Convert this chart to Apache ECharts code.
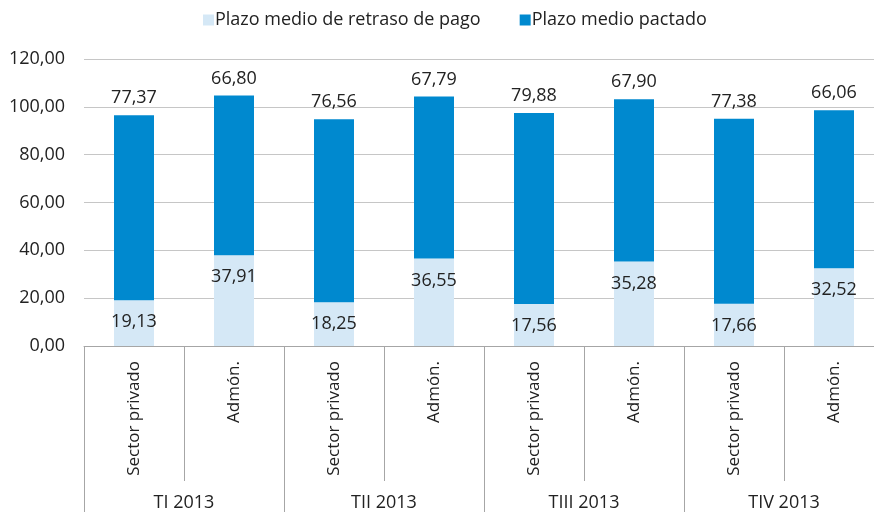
<!DOCTYPE html>
<html><head><meta charset="utf-8">
<script src="https://cdn.jsdelivr.net/npm/echarts@6/dist/echarts.min.js"></script>
<style>html,body{margin:0;padding:0;background:#fff;overflow:hidden}#c{width:884px;height:512px}</style>
</head><body><div id="c"></div>
<script>
const categories = ['Sector privado','Admón.','Sector privado','Admón.','Sector privado','Admón.','Sector privado','Admón.'];
const groups = ['TI 2013','TII 2013','TIII 2013','TIV 2013'];
const seriesNames = ['Plazo medio de retraso de pago','Plazo medio pactado'];
const retraso = [19.13, 37.91, 18.25, 36.55, 17.56, 35.28, 17.66, 32.52];
const pactado = [77.37, 66.80, 76.56, 67.79, 79.88, 67.90, 77.38, 66.06];

const FONT = 'Open Sans';
const FS = 18;
const fmt = v => Number(v).toFixed(2).replace('.', ',');
const chart = echarts.init(document.getElementById('c'));
chart.setOption({
  animation: false,
  textStyle: {fontFamily: FONT},
  legend: {
    top: 11, left: 203, padding: 0, itemWidth: 11, itemHeight: 11, itemGap: 39,
    icon: 'rect',
    textStyle: {fontFamily: FONT, fontSize: FS, color: '#222', padding: [0,0,0,-4]},
    data: seriesNames
  },
  grid: {left: 84, right: 0, top: 59, bottom: 166, containLabel: false},
  xAxis: [{
    type: 'category', data: categories, position: 'bottom',
    axisLine: {lineStyle: {color: '#a6a6a6', width: 1}},
    axisTick: {show: true, length: 135, lineStyle: {color: '#a6a6a6'}},
    axisLabel: {rotate: 90, margin: 15, fontSize: 17, color: '#222', fontFamily: FONT, interval: 0}
  }, {
    type: 'category', data: groups, position: 'bottom',
    axisLine: {show: false},
    axisTick: {show: true, length: 170, lineStyle: {color: '#a6a6a6'}},
    axisLabel: {margin: 148, fontSize: FS, color: '#222', fontFamily: FONT, interval: 0}
  }],
  yAxis: {
    type: 'value', min: 0, max: 120, interval: 20,
    axisLine: {show: false}, axisTick: {show: false},
    splitLine: {lineStyle: {color: '#c6c6c6', width: 1}},
    axisLabel: {formatter: fmt, margin: 19, fontSize: FS, color: '#222', fontFamily: FONT}
  },
  series: [{
    name: seriesNames[0], type: 'bar', stack: 's', data: retraso, barWidth: 40,
    itemStyle: {color: '#d5e8f6'},
    label: {show: true, position: 'insideTop', distance: 13, formatter: p => fmt(p.value), fontSize: FS, color: '#222', fontFamily: FONT}
  }, {
    name: seriesNames[1], type: 'bar', stack: 's', data: pactado, barWidth: 40,
    itemStyle: {color: '#0089cf'},
    label: {show: true, position: 'top', distance: 8, formatter: p => fmt(p.value), fontSize: FS, color: '#222', fontFamily: FONT}
  }]
});
</script></body></html>
